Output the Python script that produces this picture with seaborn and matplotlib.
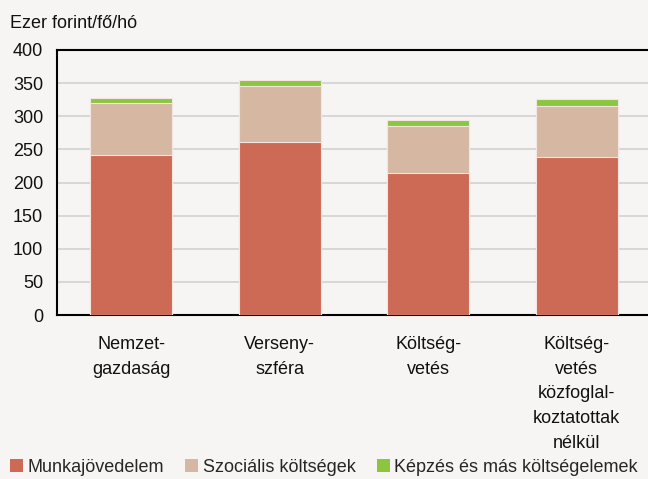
import matplotlib
matplotlib.use("Agg")
import matplotlib.pyplot as plt
import seaborn as sns
import pandas as pd
import numpy as np
from matplotlib.patches import Patch
from matplotlib import font_manager

categories = ["Nemzet-\ngazdaság", "Verseny-\nszféra", "Költség-\nvetés",
              "Költség-\nvetés\nközfoglal-\nkoztatottak\nnélkül"]
munkajovedelem = [242, 261, 215, 239]
szocialis = [78, 85, 70, 77]
kepzes = [8, 8, 9, 10]
series_names = ["Munkajövedelem", "Szociális költségek", "Képzés és más költségelemek"]
yticks = [0, 50, 100, 150, 200, 250, 300, 350, 400]

colors = ["#cc6a55", "#d6b8a2", "#8cc63f"]
bg = "#f6f5f3"

sns.set_theme(style="white")
names = {f.name for f in font_manager.fontManager.ttflist}
fam = ["Liberation Sans Narrow"] if "Liberation Sans Narrow" in names else ["Liberation Sans"]
plt.rcParams["font.family"] = fam + ["DejaVu Sans"]

df = pd.DataFrame({"cat": categories,
                   "m": munkajovedelem,
                   "s": szocialis,
                   "k": kepzes})
df["lvl1"] = df["m"]
df["lvl2"] = df["m"] + df["s"]
df["lvl3"] = df["m"] + df["s"] + df["k"]

fig = plt.figure(figsize=(6.48, 4.79), dpi=100, facecolor=bg)
ax = fig.add_axes([57/648, 1-315/479, 594/648, 265/479])
ax.set_facecolor(bg)

for col, c in zip(["lvl3", "lvl2", "lvl1"], [colors[2], colors[1], colors[0]]):
    sns.barplot(data=df, x="cat", y=col, color=c, saturation=1, width=0.55,
                edgecolor="#f3e6e0", linewidth=0.8, ax=ax, zorder=3)

fs = 13
ax.set_xlim(-0.5, 3.5)
ax.set_ylim(0, 400)
ax.set_yticks(yticks)
ax.set_yticklabels([str(t) for t in yticks], fontsize=fs, color="#111111")
ax.yaxis.grid(True, color="#d2d2d2", linewidth=1.2, zorder=0)
ax.set_axisbelow(True)
ax.set_xlabel("")
ax.set_ylabel("")
ax.tick_params(axis="x", length=0, pad=15)
ax.tick_params(axis="y", length=0, pad=10)
for lab in ax.get_xticklabels():
    lab.set_fontsize(fs)
    lab.set_linespacing(1.6)
    lab.set_color("#111111")
    lab.set_verticalalignment("top")

for s in ["left", "bottom", "top"]:
    ax.spines[s].set_visible(True)
    ax.spines[s].set_color("black")
    ax.spines[s].set_linewidth(1.5)
ax.spines["right"].set_visible(False)

fig.text(10/648, 1-23/479, "Ezer forint/fő/hó", fontsize=fs, color="#111111",
         ha="left", va="center")

handles = [Patch(facecolor=c, edgecolor="none") for c in colors]
fig.legend(handles, series_names, loc="center", bbox_to_anchor=(0.5, 1-467/479),
           ncol=3, frameon=False, fontsize=fs, handlelength=0.7, handleheight=0.7,
           handletextpad=0.25, columnspacing=1.2)

fig.savefig("out.png", dpi=100, facecolor=bg)
